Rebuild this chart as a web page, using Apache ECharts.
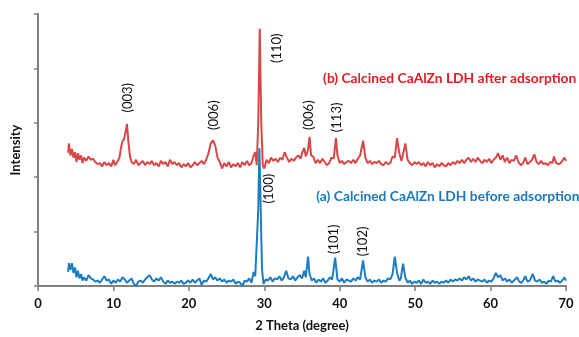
<!DOCTYPE html>
<html><head><meta charset="utf-8">
<script src="https://cdn.jsdelivr.net/npm/echarts@6/dist/echarts.min.js"></script>
<style>html,body{margin:0;padding:0;background:#fff}#c{width:579px;height:337px}</style>
</head><body><div id="c"></div>
<script>
// 2 Theta (degree), Intensity (arbitrary counts)
const afterAdsorption = [
[4.0,245],[4.1,262],[4.3,240],[4.5,252],[4.7,236],[4.9,246],[5.1,228],[5.3,244],[5.5,232],[5.7,240],[5.9,226],[6.1,236],[6.4,230],[6.7,238],[7.0,232],[7.3,234],[7.6,228],[7.9,224],[8.2,226],[8.5,220],[8.8,228],[9.1,222],[9.4,226],[9.7,220],[10.0,232],[10.2,222],[10.5,228],[10.8,236],[11.0,254],[11.2,266],[11.4,270],[11.6,282],[11.8,298],[12.0,262],[12.2,238],[12.4,228],[12.7,224],[13.0,232],[13.3,222],[13.6,226],[13.9,230],[14.2,222],[14.5,228],[14.8,224],[15.1,230],[15.4,222],[15.7,226],[16.0,220],[16.3,230],[16.6,224],[16.9,228],[17.2,220],[17.5,232],[17.8,224],[18.1,228],[18.4,222],[18.7,226],[19.0,218],[19.3,224],[19.6,220],[19.9,226],[20.2,218],[20.5,222],[20.8,228],[21.1,222],[21.4,226],[21.7,230],[22.0,224],[22.3,232],[22.6,244],[22.9,262],[23.2,268],[23.5,258],[23.8,236],[24.1,228],[24.4,216],[24.7,226],[25.0,220],[25.3,228],[25.6,218],[25.9,224],[26.2,220],[26.5,226],[26.8,218],[27.1,228],[27.4,222],[27.7,230],[28.0,222],[28.3,226],[28.6,240],[28.8,246],[29.0,222],[29.2,300],[29.4,473],[29.6,300],[29.8,222],[30.0,216],[30.3,232],[30.6,226],[30.9,236],[31.2,230],[31.5,234],[31.8,228],[32.1,236],[32.4,232],[32.7,246],[33.0,236],[33.3,228],[33.6,234],[33.9,230],[34.2,236],[34.5,240],[34.8,234],[35.1,248],[35.3,254],[35.5,238],[35.8,250],[36.0,274],[36.2,240],[36.5,238],[36.8,226],[37.1,232],[37.4,226],[37.7,234],[38.0,228],[38.3,222],[38.6,226],[38.9,236],[39.2,234],[39.5,272],[39.7,240],[40.0,226],[40.3,230],[40.6,224],[40.9,228],[41.2,230],[41.5,226],[41.8,232],[42.1,226],[42.4,234],[42.7,240],[43.1,267],[43.4,236],[43.7,226],[44.0,230],[44.3,224],[44.6,228],[44.9,226],[45.2,230],[45.5,224],[45.8,222],[46.1,228],[46.4,224],[46.7,226],[47.0,238],[47.3,236],[47.6,272],[47.9,244],[48.2,230],[48.7,262],[49.0,232],[49.3,226],[49.6,222],[49.9,228],[50.2,224],[50.5,228],[50.8,222],[51.1,226],[51.4,220],[51.7,228],[52.0,222],[52.3,226],[52.6,218],[52.9,224],[53.2,220],[53.5,226],[53.8,222],[54.1,220],[54.4,226],[54.7,222],[55.0,228],[55.3,224],[55.6,230],[55.9,226],[56.2,232],[56.5,226],[56.8,232],[57.1,236],[57.4,228],[57.7,234],[58.0,228],[58.3,236],[58.6,230],[58.9,226],[59.2,232],[59.5,228],[59.8,234],[60.1,226],[60.4,232],[60.7,236],[61.0,244],[61.3,232],[61.6,240],[61.9,228],[62.2,236],[62.5,226],[62.8,232],[63.1,230],[63.4,240],[63.7,228],[64.0,222],[64.3,226],[64.6,236],[64.9,224],[65.2,228],[65.5,232],[65.8,242],[66.1,228],[66.4,224],[66.7,230],[67.0,224],[67.3,226],[67.6,222],[67.9,228],[68.2,226],[68.4,238],[68.7,226],[69.0,224],[69.3,226],[69.6,232],[69.8,236],[70.0,230]
];
const beforeAdsorption = [
[4.0,26],[4.1,42],[4.3,30],[4.5,42],[4.7,24],[4.9,34],[5.1,16],[5.3,28],[5.5,14],[5.7,22],[5.9,10],[6.1,16],[6.4,10],[6.7,20],[7.0,14],[7.3,12],[7.6,8],[7.9,10],[8.2,6],[8.5,12],[8.8,18],[9.1,10],[9.4,12],[9.7,4],[10.0,10],[10.3,6],[10.6,12],[10.9,8],[11.2,16],[11.5,12],[11.8,6],[12.1,10],[12.4,14],[12.7,4],[13.0,0],[13.3,8],[13.6,10],[13.9,6],[14.2,12],[14.5,16],[14.8,20],[15.1,12],[15.4,8],[15.7,14],[16.0,10],[16.3,16],[16.6,8],[16.9,4],[17.2,10],[17.5,6],[17.8,8],[18.1,4],[18.4,8],[18.7,6],[19.0,10],[19.3,4],[19.6,6],[19.9,10],[20.2,6],[20.5,12],[20.8,6],[21.1,10],[21.4,14],[21.7,2],[22.0,10],[22.3,8],[22.6,14],[22.9,22],[23.2,12],[23.5,16],[23.8,10],[24.1,14],[24.4,8],[24.7,12],[25.0,6],[25.3,10],[25.6,8],[25.9,12],[26.2,4],[26.5,8],[26.8,6],[27.1,0],[27.4,10],[27.7,8],[28.0,14],[28.3,6],[28.6,26],[28.8,18],[29.0,20],[29.2,140],[29.35,253],[29.5,160],[29.7,30],[29.9,4],[30.2,12],[30.5,10],[30.8,16],[31.1,8],[31.4,14],[31.7,12],[32.0,18],[32.3,10],[32.6,16],[32.9,28],[33.2,14],[33.5,12],[33.8,18],[34.1,10],[34.4,16],[34.7,20],[35.0,14],[35.3,28],[35.5,16],[35.8,54],[36.0,22],[36.3,10],[36.6,14],[36.9,6],[37.2,12],[37.5,8],[37.8,14],[38.1,6],[38.4,10],[38.7,16],[39.0,12],[39.4,52],[39.7,12],[40.0,8],[40.3,14],[40.6,6],[40.9,12],[41.2,10],[41.5,8],[41.8,14],[42.1,10],[42.4,16],[42.7,12],[43.1,47],[43.4,16],[43.7,8],[44.0,12],[44.3,6],[44.6,10],[44.9,8],[45.2,12],[45.5,6],[45.8,10],[46.1,8],[46.4,14],[46.7,12],[47.0,22],[47.3,54],[47.6,24],[47.9,10],[48.1,14],[48.4,41],[48.7,16],[49.0,6],[49.3,10],[49.6,4],[49.9,8],[50.2,6],[50.5,10],[50.8,4],[51.1,12],[51.4,6],[51.7,8],[52.0,4],[52.3,10],[52.6,6],[52.9,8],[53.2,4],[53.5,8],[53.8,6],[54.1,10],[54.4,6],[54.7,12],[55.0,8],[55.3,12],[55.6,10],[55.9,14],[56.2,10],[56.5,16],[56.8,12],[57.1,18],[57.4,10],[57.7,14],[58.0,8],[58.3,12],[58.6,10],[58.9,8],[59.2,12],[59.5,6],[59.8,10],[60.1,8],[60.4,14],[60.7,24],[61.0,16],[61.3,20],[61.6,10],[61.9,14],[62.2,8],[62.5,12],[62.8,6],[63.1,10],[63.5,16],[63.8,8],[64.1,6],[64.4,12],[64.6,18],[64.9,8],[65.2,10],[65.6,22],[65.9,10],[66.2,8],[66.5,12],[66.8,6],[67.1,8],[67.4,4],[67.7,10],[68.0,8],[68.3,18],[68.6,8],[68.9,10],[69.2,6],[69.5,10],[69.8,16],[70.0,10]
];
const xTicks = [0, 10, 20, 30, 40, 50, 60, 70];
// peak labels: [text, theta, intensity]
const peakLabelsB = [["(003)",11.9,346],["(006)",23.3,314],["(110)",31.7,437],["(006)",35.9,314],["(113)",39.6,310]];
const peakLabelsA = [["(100)",30.6,179],["(101)",39.2,86],["(102)",43.1,82]];
const seriesNames = ["(b) Calcined CaAlZn LDH after adsorption", "(a) Calcined CaAlZn LDH before adsorption"];
const seriesNamePos = [[37.8,382],[36.9,165]];

const FONT = 'Lato';
const redLine = '#d94646', blueLine = '#1b7dc2';
const redText = '#e31b23', blueText = '#1a78be';

function peakMarks(list){
  return list.map(p => ({coord:[p[1],p[2]], symbolSize:0,
    label:{show:true, formatter:p[0], rotate:90, position:'inside', color:'#111', fontFamily:FONT, fontSize:13}}));
}
function nameMark(i, color){
  return {coord: seriesNamePos[i], symbolSize:0,
    label:{show:true, formatter:seriesNames[i], position:'right', distance:0, color:color, fontFamily:FONT, fontSize:13.8, fontWeight:'bold'}};
}

const chart = echarts.init(document.getElementById('c'), null, {renderer:'canvas'});
chart.setOption({
  animation:false,
  grid:{left:38, right:13, top:14, bottom:44},
  xAxis:{type:'value', min:0, max:70, interval:10,
    axisLine:{show:true, onZero:false, lineStyle:{color:'#7f7f7f', width:2}},
    axisTick:{show:true, inside:false, length:5, lineStyle:{color:'#7f7f7f', width:1.5}},
    splitLine:{show:false},
    axisLabel:{color:'#111', fontFamily:FONT, fontSize:13, fontWeight:'bold', margin:11,
      formatter: v => xTicks.includes(v) ? String(v) : ''},
    name:'2 Theta (degree)', nameLocation:'middle', nameGap:33,
    nameTextStyle:{color:'#111', fontFamily:FONT, fontSize:13, fontWeight:'bold'}},
  yAxis:{type:'value', min:0, max:500, interval:100,
    axisLine:{show:true, lineStyle:{color:'#7f7f7f', width:2}},
    axisTick:{show:true, inside:false, length:4, lineStyle:{color:'#7f7f7f', width:1.5}},
    splitLine:{show:false}, axisLabel:{show:false},
    name:'Intensity', nameLocation:'middle', nameGap:16, nameRotate:90,
    nameTextStyle:{color:'#111', fontFamily:FONT, fontSize:13, fontWeight:'bold'}},
  series:[
    {type:'line', name:seriesNames[0], data:afterAdsorption, showSymbol:false, symbol:'none',
      lineStyle:{color:redLine, width:2}, z:2,
      markPoint:{symbol:'circle', data:[...peakMarks(peakLabelsB), nameMark(0, redText)]}},
    {type:'line', name:seriesNames[1], data:beforeAdsorption, showSymbol:false, symbol:'none',
      lineStyle:{color:blueLine, width:2}, z:3,
      markPoint:{symbol:'circle', data:[...peakMarks(peakLabelsA), nameMark(1, blueText)]}}
  ]
});
</script></body></html>
